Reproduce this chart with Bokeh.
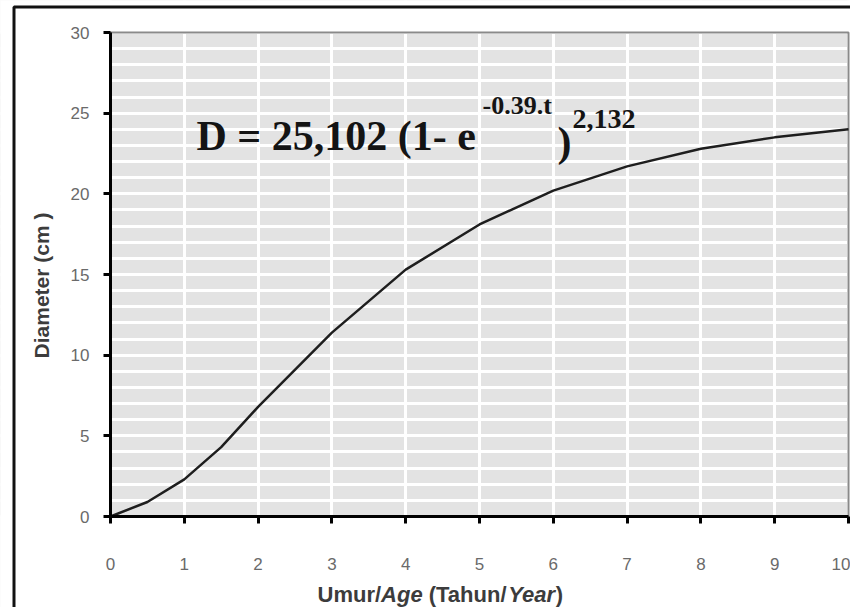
import math
from bokeh.plotting import figure
from bokeh.models import Label, BoxAnnotation, FixedTicker, Range1d, Grid
from bokeh.embed import file_html
from bokeh.resources import INLINE

# ---- data ----
age = [0, 0.5, 1, 1.5, 2, 3, 4, 5, 6, 7, 8, 9, 10]
diameter = [0, 0.9, 2.3, 4.3, 6.8, 11.4, 15.3, 18.1, 20.2, 21.7, 22.8, 23.5, 24.0]
x_ticks = [0, 1, 2, 3, 4, 5, 6, 7, 8, 9, 10]
y_ticks = [0, 5, 10, 15, 20, 25, 30]
y_minor = list(range(0, 31))
x_lo, x_hi = 0, 10
y_lo, y_hi = 0, 30
y_label = "Diameter (cm )"
# (text, style, width in em incl. following gap)
x_label_parts = [("Umur/", "bold", 2.889), ("Age", "bold italic", 1.889 + 0.278),
                 ("(Tahun/", "bold", 3.611), ("Year", "bold italic", 2.168),
                 (")", "bold", 0.333)]
equation_main = "D = 25,102 (1- e"
equation_exp1 = "-0.39.t"
equation_paren = ")"
equation_exp2 = "2,132"

# ---- layout (canvas pixels) ----
W, H = 850, 607
PX_L, PX_R, PX_T, PX_B = 110, 848, 32, 516   # plot area in canvas pixels
sx = (PX_R - PX_L) / (x_hi - x_lo)
sy = (PX_B - PX_T) / (y_hi - y_lo)

def px_x(px):
    return x_lo + (px - PX_L) / sx

def px_y(py):
    return y_lo + (PX_B - py) / sy

p = figure(width=W, height=H,
           x_range=Range1d(px_x(0), px_x(W)), y_range=Range1d(px_y(H), px_y(0)),
           output_backend="svg", toolbar_location=None,
           min_border_left=0, min_border_right=0, min_border_top=0, min_border_bottom=0)

p.background_fill_color = "#e3e3e3"
p.border_fill_color = "white"
p.outline_line_color = None
p.grid.visible = False

# grid lines (white) inside the plot area
p.add_layout(Grid(dimension=0, ticker=FixedTicker(ticks=x_ticks),
                  grid_line_color="white", grid_line_width=3))
p.add_layout(Grid(dimension=1, ticker=FixedTicker(ticks=y_ticks, minor_ticks=y_minor),
                  grid_line_color="white", grid_line_width=3,
                  minor_grid_line_color="white", minor_grid_line_width=3))

# white surround outside the plot area
far = 1000
for kw in (dict(left=px_x(-far), right=x_lo, bottom=px_y(H + far), top=px_y(-far)),
           dict(left=x_hi, right=px_x(W + far), bottom=px_y(H + far), top=px_y(-far)),
           dict(left=px_x(-far), right=px_x(W + far), bottom=px_y(H + far), top=y_lo),
           dict(left=px_x(-far), right=px_x(W + far), bottom=y_hi, top=px_y(-far))):
    p.add_layout(BoxAnnotation(fill_color="white", fill_alpha=1, line_color=None,
                               level="underlay", **kw))

# grey outline of the plot area
p.add_layout(BoxAnnotation(left=x_lo, right=x_hi, bottom=y_lo, top=y_hi,
                           fill_alpha=0, line_color="#8a8a8a", line_alpha=1,
                           line_width=2, level="underlay"))

for ax in (p.xaxis[0], p.yaxis[0]):
    ax.fixed_location = 0
    ax.axis_line_color = "black"
    ax.axis_line_width = 3
    ax.major_tick_line_color = "black"
    ax.major_tick_line_width = 3
    ax.major_tick_out = 7
    ax.major_tick_in = 0
    ax.minor_tick_line_color = None
    ax.major_label_text_font = "Liberation Sans"
    ax.major_label_text_font_size = "17px"
    ax.major_label_text_color = "#6a6a6a"

p.xaxis.ticker = FixedTicker(ticks=x_ticks)
p.yaxis.ticker = FixedTicker(ticks=y_ticks)
p.xaxis.bounds = (x_lo, x_hi)
p.yaxis.bounds = (y_lo, y_hi)
p.xaxis.major_label_standoff = 34
p.yaxis.major_label_standoff = 14

# y-axis title (rotated label)
p.add_layout(Label(x=px_x(41), y=px_y(285), text=y_label, angle=math.pi / 2,
                   text_font="Liberation Sans", text_font_style="bold",
                   text_font_size="21px", text_color="#3c3c3c",
                   text_align="center", text_baseline="middle"))

p.line(age, diameter, line_color="#1e1e1e", line_width=2.5)

# x-axis title made of pieces (mixed italic)
fs = 22
xpx = 317
for txt, style, w_em in x_label_parts:
    p.add_layout(Label(x=px_x(xpx), y=px_y(594), text=txt,
                       text_font="Liberation Sans", text_font_style=style,
                       text_font_size=f"{fs}px", text_color="#3c3c3c",
                       text_baseline="alphabetic", text_align="left"))
    xpx += w_em * fs

# equation
eq_font = "Liberation Serif"
p.add_layout(Label(x=px_x(196), y=px_y(135), text=equation_main, text_font=eq_font,
                   text_font_style="bold", text_font_size="42px", text_color="#141414",
                   text_baseline="alphabetic"))
p.add_layout(Label(x=px_x(482), y=px_y(105), text=equation_exp1, text_font=eq_font,
                   text_font_style="bold", text_font_size="26px", text_color="#141414",
                   text_baseline="alphabetic"))
p.add_layout(Label(x=px_x(557), y=px_y(141), text=equation_paren, text_font=eq_font,
                   text_font_style="bold", text_font_size="42px", text_color="#141414",
                   text_baseline="alphabetic"))
p.add_layout(Label(x=px_x(572), y=px_y(118), text=equation_exp2, text_font=eq_font,
                   text_font_style="bold", text_font_size="28px", text_color="#141414",
                   text_baseline="alphabetic"))

# outer frame of the picture
p.add_layout(BoxAnnotation(left=px_x(13.5), right=px_x(W + 50), top=px_y(6.5),
                           bottom=px_y(H + 50), fill_alpha=0, line_color="#111111",
                           line_alpha=1, line_width=3))

open("out.html", "w").write(file_html(p, INLINE))
